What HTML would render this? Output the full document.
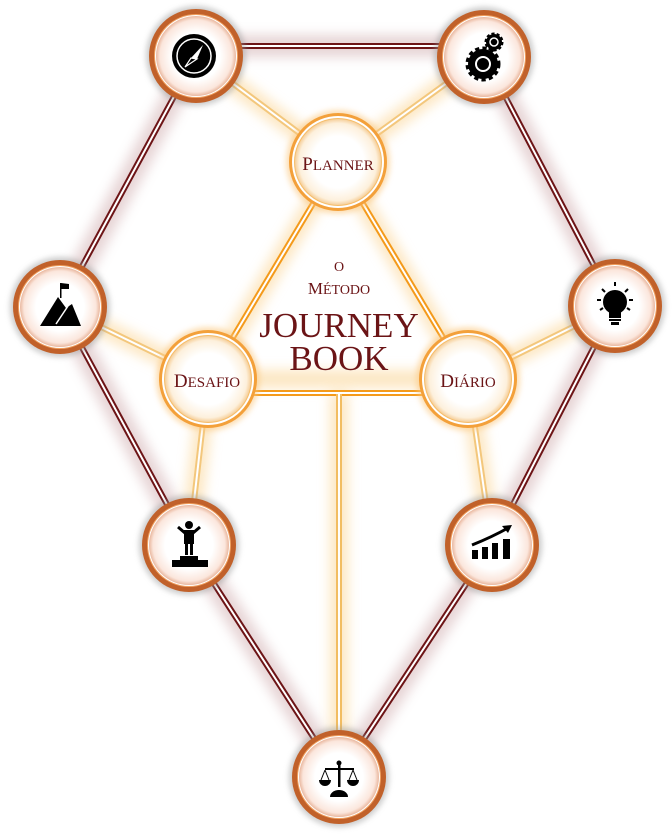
<!DOCTYPE html>
<html><head><meta charset="utf-8"><style>
html,body{margin:0;padding:0;background:#fff;}
svg{display:block;}
text{font-family:"Liberation Serif",serif;fill:#6b1416;}
</style></head><body>
<svg width="672" height="838" viewBox="0 0 672 838" xmlns="http://www.w3.org/2000/svg">
<defs>
<filter id="g" x="-50%" y="-50%" width="200%" height="200%"><feGaussianBlur stdDeviation="6"/></filter>
<filter id="gs" x="-50%" y="-50%" width="200%" height="200%"><feGaussianBlur stdDeviation="3"/></filter>
<radialGradient id="inO" r="0.5"><stop offset="0.6" stop-color="#fff"/><stop offset="0.9" stop-color="#fbe6dc"/><stop offset="1" stop-color="#e9b79e"/></radialGradient>
<radialGradient id="inI" r="0.5"><stop offset="0.6" stop-color="#fff"/><stop offset="0.9" stop-color="#fdf0dc"/><stop offset="1" stop-color="#f6cf9a"/></radialGradient>
</defs>

<g stroke="#c9a0a3" stroke-width="22" fill="none" opacity="0.45" filter="url(#g)">
<polyline points="196,46 484,46"/>
<polyline points="484,56 615,306 492,545 339,777 189,545 60,307 196,56"/>
</g>
<g stroke="#fbd79a" stroke-width="18" fill="none" opacity="0.6" filter="url(#g)">
<polyline points="338,162 208,379 468,379 338,162"/>
<line x1="339" y1="393" x2="339" y2="777"/>
<line x1="196" y1="56" x2="338" y2="162"/><line x1="484" y1="56" x2="338" y2="162"/>
<line x1="60" y1="307" x2="208" y2="379"/><line x1="189" y1="545" x2="208" y2="379"/>
<line x1="615" y1="306" x2="468" y2="379"/><line x1="492" y1="545" x2="468" y2="379"/>
</g>
<g stroke="#f3c77c" stroke-width="6" fill="none">
<line x1="196" y1="56" x2="338" y2="162"/><line x1="484" y1="56" x2="338" y2="162"/>
<line x1="60" y1="307" x2="208" y2="379"/><line x1="189" y1="545" x2="208" y2="379"/>
<line x1="615" y1="306" x2="468" y2="379"/><line x1="492" y1="545" x2="468" y2="379"/>
</g>
<g stroke="#fff" stroke-width="2" fill="none">
<line x1="196" y1="56" x2="338" y2="162"/><line x1="484" y1="56" x2="338" y2="162"/>
<line x1="60" y1="307" x2="208" y2="379"/><line x1="189" y1="545" x2="208" y2="379"/>
<line x1="615" y1="306" x2="468" y2="379"/><line x1="492" y1="545" x2="468" y2="379"/>
</g>
<g stroke="#f49a1a" stroke-width="6" fill="none">
<line x1="338" y1="162" x2="208" y2="379"/><line x1="338" y1="162" x2="468" y2="379"/>
<line x1="208" y1="393" x2="468" y2="393"/>
<line x1="339" y1="393" x2="339" y2="777" stroke="#f2bd62"/>
</g>
<g stroke="#fff" stroke-width="2" fill="none">
<line x1="338" y1="162" x2="208" y2="379"/><line x1="338" y1="162" x2="468" y2="379"/>
<line x1="208" y1="393" x2="468" y2="393"/>
<line x1="339" y1="393" x2="339" y2="777"/>
</g>
<g stroke="#6d1416" stroke-width="6" fill="none">
<polyline points="196,46 484,46"/>
<polyline points="484,56 615,306 492,545 339,777 189,545 60,307 196,56"/>
</g>
<g stroke="#fff" stroke-width="2" fill="none">
<polyline points="196,46 484,46"/>
<polyline points="484,56 615,306 492,545 339,777 189,545 60,307 196,56"/>
</g>

<g>
<g transform="translate(196,56)"><circle r="50" fill="#999" opacity="0.5" filter="url(#gs)"/><circle r="47" fill="#c1612a"/><circle r="42" fill="#f0a060"/><circle r="41" fill="#fff"/><circle r="40" fill="url(#inO)"/></g>
<g transform="translate(484,57)"><circle r="50" fill="#999" opacity="0.5" filter="url(#gs)"/><circle r="47" fill="#c1612a"/><circle r="42" fill="#f0a060"/><circle r="41" fill="#fff"/><circle r="40" fill="url(#inO)"/></g>
<g transform="translate(60,307)"><circle r="50" fill="#999" opacity="0.5" filter="url(#gs)"/><circle r="47" fill="#c1612a"/><circle r="42" fill="#f0a060"/><circle r="41" fill="#fff"/><circle r="40" fill="url(#inO)"/></g>
<g transform="translate(615,306)"><circle r="50" fill="#999" opacity="0.5" filter="url(#gs)"/><circle r="47" fill="#c1612a"/><circle r="42" fill="#f0a060"/><circle r="41" fill="#fff"/><circle r="40" fill="url(#inO)"/></g>
<g transform="translate(189,545)"><circle r="50" fill="#999" opacity="0.5" filter="url(#gs)"/><circle r="47" fill="#c1612a"/><circle r="42" fill="#f0a060"/><circle r="41" fill="#fff"/><circle r="40" fill="url(#inO)"/></g>
<g transform="translate(492,545)"><circle r="50" fill="#999" opacity="0.5" filter="url(#gs)"/><circle r="47" fill="#c1612a"/><circle r="42" fill="#f0a060"/><circle r="41" fill="#fff"/><circle r="40" fill="url(#inO)"/></g>
<g transform="translate(339,777)"><circle r="50" fill="#999" opacity="0.5" filter="url(#gs)"/><circle r="47" fill="#c1612a"/><circle r="42" fill="#f0a060"/><circle r="41" fill="#fff"/><circle r="40" fill="url(#inO)"/></g>
</g>
<g transform="translate(338,162)"><circle r="52" fill="#fbc880" opacity="0.6" filter="url(#gs)"/><circle r="49" fill="#f3a03a"/><circle r="46" fill="#fff"/><circle r="44" fill="#f6bd6a"/><circle r="43" fill="url(#inI)"/></g>
<g transform="translate(208,379)"><circle r="52" fill="#fbc880" opacity="0.6" filter="url(#gs)"/><circle r="49" fill="#f3a03a"/><circle r="46" fill="#fff"/><circle r="44" fill="#f6bd6a"/><circle r="43" fill="url(#inI)"/></g>
<g transform="translate(468,379)"><circle r="52" fill="#fbc880" opacity="0.6" filter="url(#gs)"/><circle r="49" fill="#f3a03a"/><circle r="46" fill="#fff"/><circle r="44" fill="#f6bd6a"/><circle r="43" fill="url(#inI)"/></g>

<text x="338" y="170" text-anchor="middle" font-size="19">P<tspan font-size="15">LANNER</tspan></text>
<text x="207" y="387" text-anchor="middle" font-size="19">D<tspan font-size="15">ESAFIO</tspan></text>
<text x="468" y="387" text-anchor="middle" font-size="19">D<tspan font-size="15">IÁRIO</tspan></text>
<text x="339" y="271" text-anchor="middle" font-size="14">O</text>
<text x="339" y="294" text-anchor="middle" font-size="17">M<tspan font-size="14">ÉTODO</tspan></text>
<text x="339" y="337" text-anchor="middle" font-size="35">JOURNEY</text>
<text x="339" y="370" text-anchor="middle" font-size="35">BOOK</text>

<g fill="#000">
<circle cx="194" cy="56" r="22"/><circle cx="194" cy="56" r="17" fill="none" stroke="#fff" stroke-width="1.5"/>
<polygon points="203,45 197,59 191,58" fill="#fff"/><polygon points="185,67 191,58 197,59" fill="none" stroke="#fff" stroke-width="1.2"/>
<circle cx="483" cy="64" r="15" stroke="#000" stroke-width="5" stroke-dasharray="4 3"/><circle cx="483" cy="64" r="13"/><circle cx="483" cy="64" r="7" fill="none" stroke="#fff" stroke-width="2"/>
<circle cx="494" cy="42" r="8" stroke="#000" stroke-width="3" stroke-dasharray="3 2"/><circle cx="494" cy="42" r="4" fill="none" stroke="#fff" stroke-width="1.5"/>
<polygon points="40,326 58,297 66,308 72,304 81,326"/><line x1="56" y1="324" x2="68" y2="306" stroke="#fff" stroke-width="1.5"/>
<rect x="60" y="283" width="1.5" height="15"/><polygon points="61,283 69,284 69,289 61,289"/>
<circle cx="615" cy="302" r="12"/><rect x="609" y="312" width="12" height="6"/><rect x="609" y="319" width="12" height="2"/><rect x="611" y="322" width="8" height="3"/>
<g stroke="#000" stroke-width="2"><line x1="615" y1="282" x2="615" y2="286"/><line x1="602" y1="289" x2="605" y2="292"/><line x1="628" y1="289" x2="625" y2="292"/><line x1="597" y1="300" x2="601" y2="300"/><line x1="633" y1="300" x2="629" y2="300"/><line x1="600" y1="310" x2="603" y2="308"/><line x1="630" y1="310" x2="627" y2="308"/></g>
<circle cx="189" cy="525" r="4"/><rect x="184" y="530" width="10" height="14"/><rect x="185" y="543" width="3" height="12"/><rect x="190" y="543" width="3" height="12"/>
<polyline points="178,527 185,533 193,533 200,527" fill="none" stroke="#000" stroke-width="3"/>
<rect x="180" y="556" width="18" height="4"/><rect x="172" y="560" width="36" height="7"/>
<rect x="472" y="550" width="6" height="9"/><rect x="482" y="547" width="6" height="12"/><rect x="492" y="543" width="6" height="16"/><rect x="503" y="539" width="7" height="20"/>
<path d="M472 545 Q492 537 508 528" fill="none" stroke="#000" stroke-width="3"/><polygon points="512,525 502,526 508,533"/>
<circle cx="339" cy="763" r="2.5"/><rect x="338" y="765" width="2.5" height="22"/><rect x="325" y="768" width="29" height="2"/>
<path d="M319 780 h12 a6 6 0 0 1 -12 0z"/><path d="M347 780 h12 a6 6 0 0 1 -12 0z"/>
<path d="M330 797 a9 7 0 0 1 18 0z"/>
<g stroke="#000" stroke-width="1"><line x1="325" y1="770" x2="321" y2="780"/><line x1="325" y1="770" x2="329" y2="780"/><line x1="353" y1="770" x2="349" y2="780"/><line x1="353" y1="770" x2="357" y2="780"/></g>
</g>
</svg>
</body></html>
